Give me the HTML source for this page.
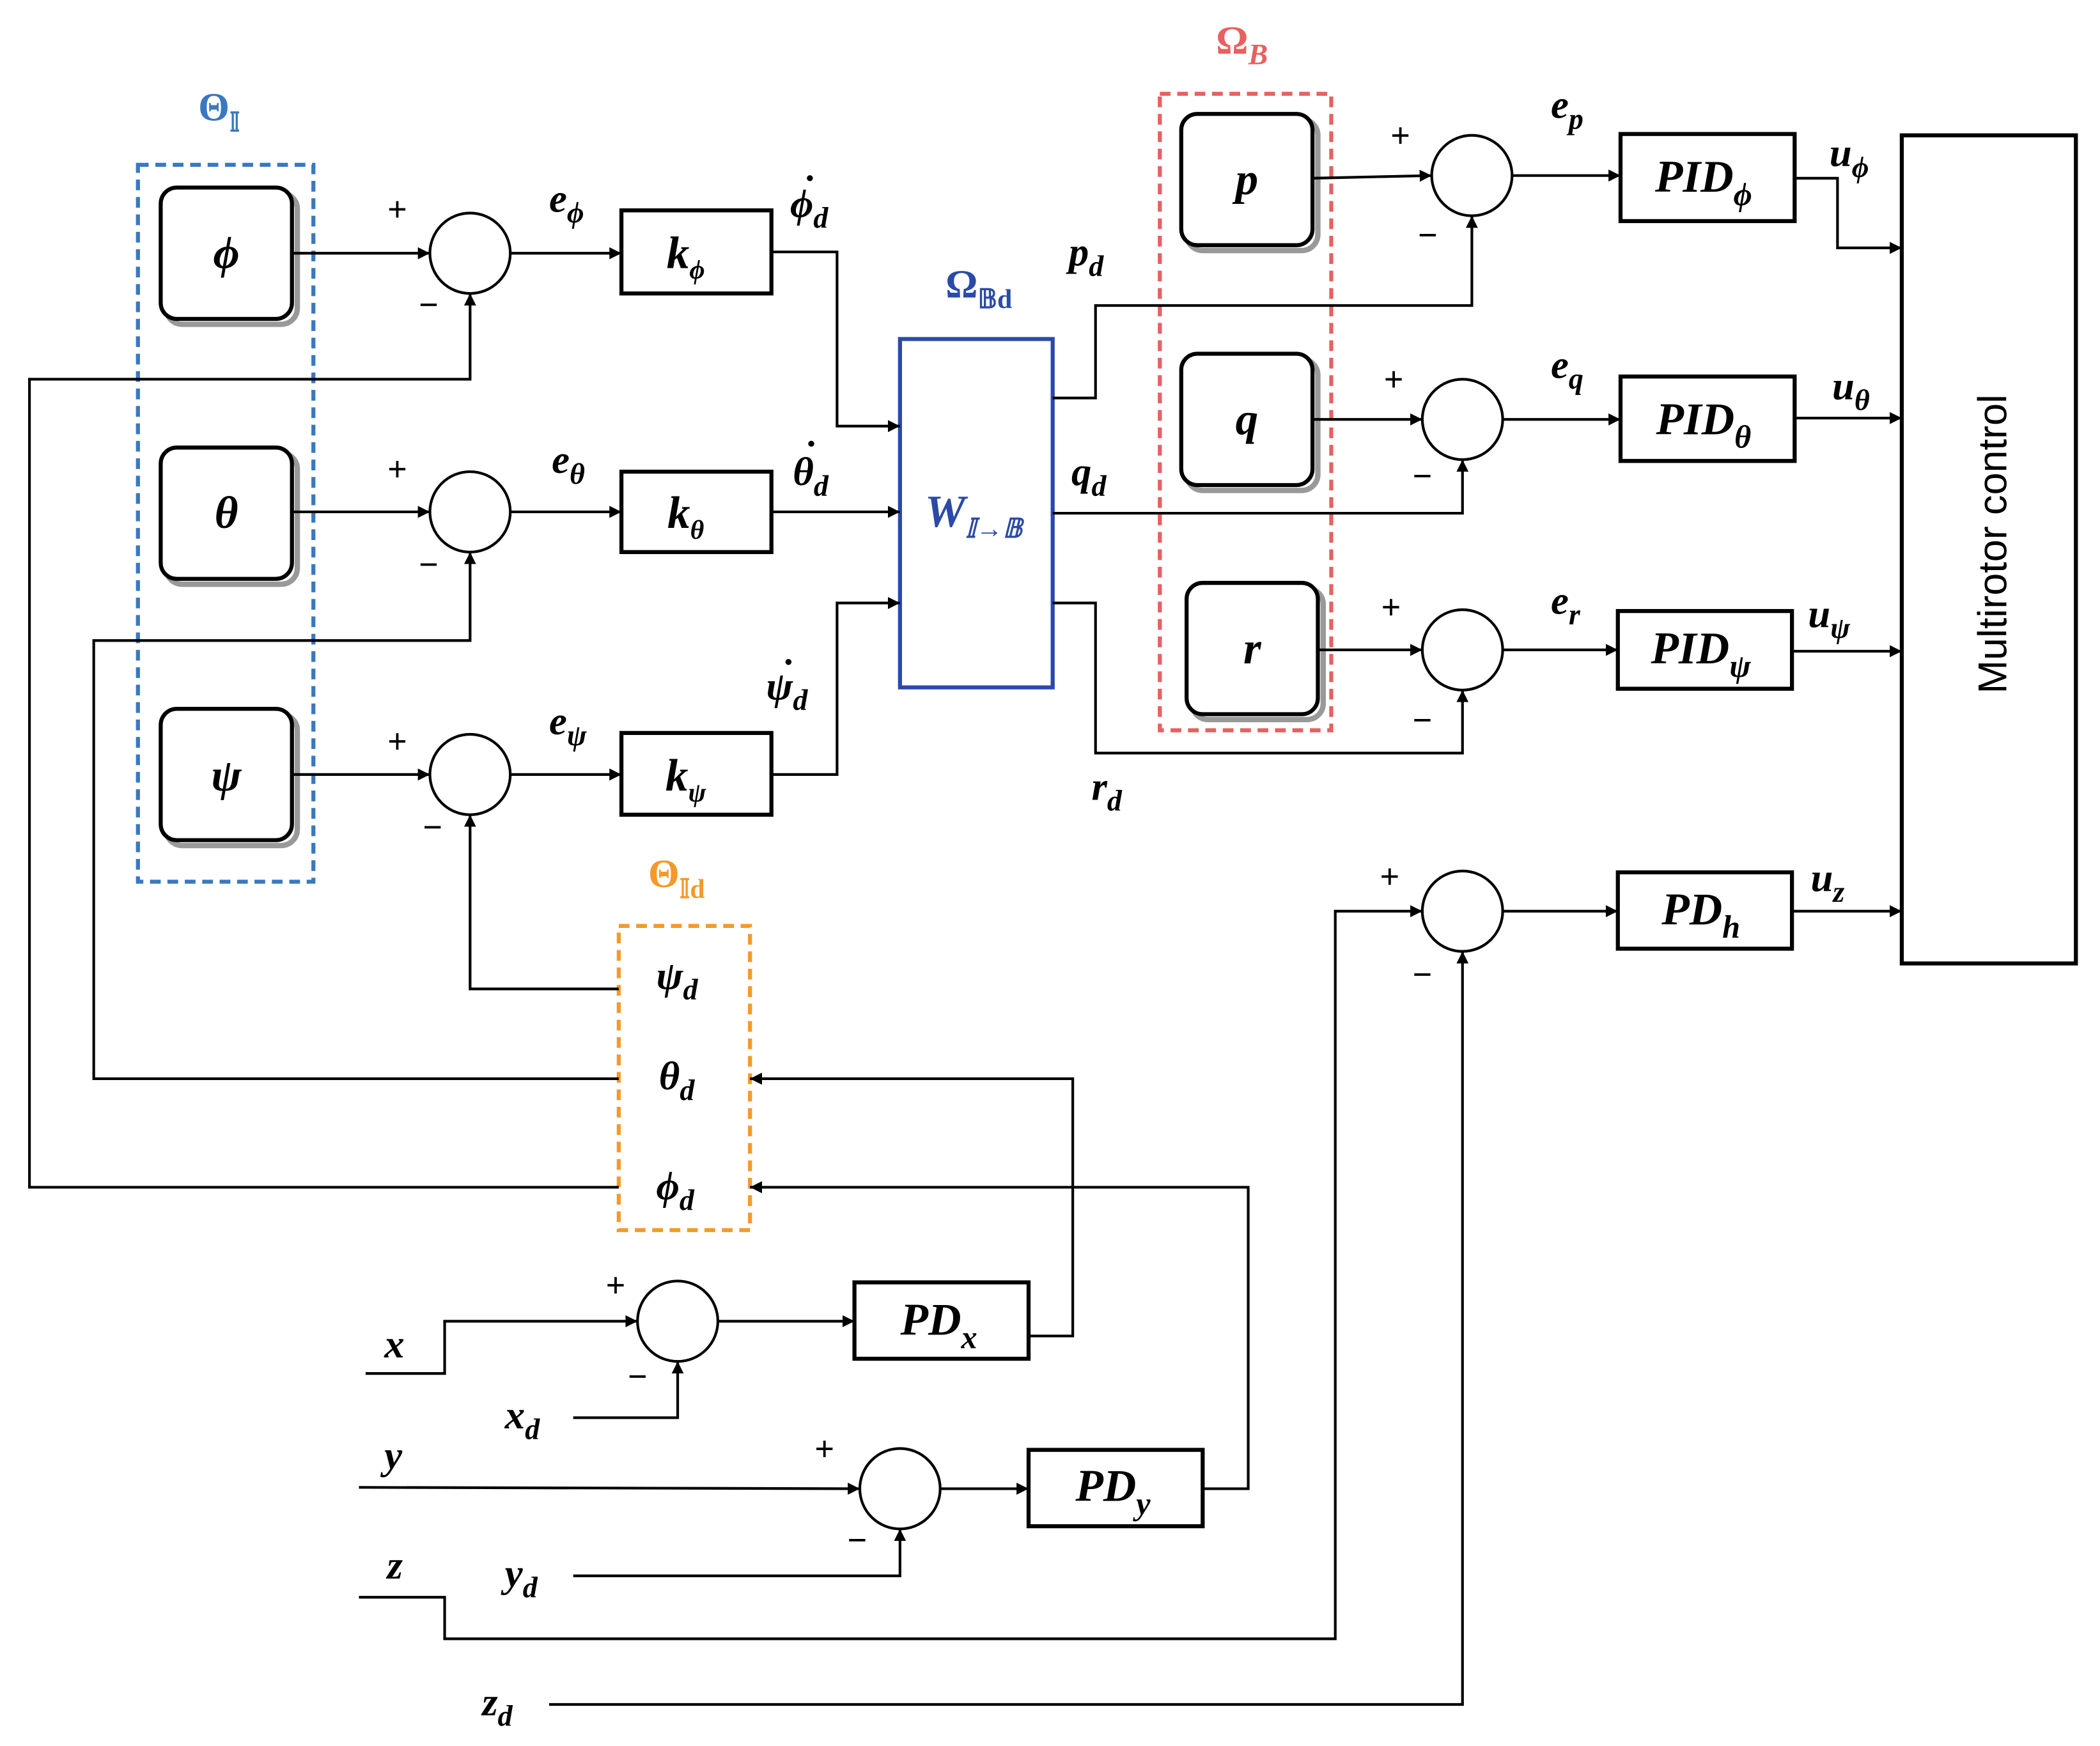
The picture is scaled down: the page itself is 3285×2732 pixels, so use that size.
<!DOCTYPE html>
<html><head><meta charset="utf-8"><style>
html,body{margin:0;padding:0;background:#fff;}
svg{display:block}
text{font-family:"Liberation Serif",serif;font-style:italic;font-weight:bold;fill:#000}
.pm{font-family:"DejaVu Sans",sans-serif;font-style:normal;font-weight:normal;font-size:26px}
</style></head><body>
<svg width="3285" height="2732" viewBox="0 0 1568 1303" preserveAspectRatio="none" xmlns="http://www.w3.org/2000/svg">
<defs><marker id="a" viewBox="0 0 10 10" refX="10" refY="5" markerWidth="9" markerHeight="9" orient="auto" markerUnits="userSpaceOnUse"><path d="M0,0L10,5L0,10z" fill="#000"/></marker></defs>
<g fill="none" stroke="#000" stroke-width="2">
<rect x="103" y="123" width="131" height="535" stroke="#3a78c0" stroke-width="3" stroke-dasharray="8,5"/>
<rect x="866" y="70" width="128" height="475" stroke="#e86060" stroke-width="3" stroke-dasharray="8,5"/>
<rect x="462" y="691" width="98" height="227" stroke="#f39a2a" stroke-width="3" stroke-dasharray="8,5"/>
<g stroke="#999" stroke-width="4"><rect x="124" y="144" width="98" height="98" rx="12"/><rect x="124" y="338" width="98" height="98" rx="12"/><rect x="124" y="533" width="98" height="98" rx="12"/><rect x="886" y="89" width="98" height="98" rx="12"/><rect x="886" y="268" width="98" height="98" rx="12"/><rect x="890" y="439" width="98" height="98" rx="12"/></g>
<g stroke-width="3" fill="#fff"><rect x="120" y="140" width="98" height="98" rx="12"/><rect x="120" y="334" width="98" height="98" rx="12"/><rect x="120" y="529" width="98" height="98" rx="12"/><rect x="882" y="85" width="98" height="98" rx="12"/><rect x="882" y="264" width="98" height="98" rx="12"/><rect x="886" y="435" width="98" height="98" rx="12"/></g>
<circle cx="351" cy="189" r="30"/><circle cx="351" cy="382" r="30"/><circle cx="351" cy="578" r="30"/>
<circle cx="1099" cy="131" r="30"/><circle cx="1092" cy="313" r="30"/><circle cx="1092" cy="485" r="30"/><circle cx="1092" cy="680" r="30"/>
<circle cx="506" cy="986" r="30"/><circle cx="672" cy="1111" r="30"/>
<g stroke-width="3"><rect x="464" y="157" width="112" height="62"/><rect x="464" y="352" width="112" height="60"/><rect x="464" y="547" width="112" height="61"/>
<rect x="1210" y="100" width="130" height="65"/><rect x="1210" y="281" width="130" height="63"/><rect x="1208" y="456" width="130" height="58"/><rect x="1208" y="651" width="130" height="57"/>
<rect x="1420" y="101" width="130" height="618"/><rect x="638" y="957" width="130" height="57"/><rect x="768" y="1082" width="130" height="57"/></g>
<rect x="672" y="253" width="114" height="260" stroke="#2b4aa8" stroke-width="3"/>
<g marker-end="url(#a)">
<path d="M218,189H321"/><path d="M218,382H321"/><path d="M218,578H321"/>
<path d="M381,189H464"/><path d="M381,382H464"/><path d="M381,578H464"/>
<path d="M576,188H625V318H672"/><path d="M576,382H672"/><path d="M576,578H625V450H672"/>
<path d="M786,297H818V228H1099V161"/><path d="M786,383H1092V343"/><path d="M786,450H818V562H1092V515"/>
<path d="M980,133L1069,131"/><path d="M1129,131H1210"/><path d="M980,313H1062"/><path d="M1122,313H1210"/><path d="M984,485H1062"/><path d="M1122,485H1208"/><path d="M1122,680H1208"/>
<path d="M1340,133H1372V185H1420"/><path d="M1340,312H1420"/><path d="M1338,486H1420"/><path d="M1338,680H1420"/>
<path d="M462,738H351V608"/><path d="M462,805H70V478H351V412"/><path d="M462,886H22V283H351V219"/>
<path d="M273,1025H332V986H476"/><path d="M428,1058H506V1016"/><path d="M536,986H638"/><path d="M768,997H801V805H560"/>
<path d="M268,1110L642,1111"/><path d="M428,1176H672V1141"/><path d="M702,1111H768"/><path d="M898,1111H932V886H560"/>
<path d="M268,1192H332V1223H997V680H1062"/><path d="M410,1272H1092V710"/>
</g>
</g>
<g font-size="34" text-anchor="middle">
<text x="169" y="200">ϕ</text><text x="169" y="394">θ</text><text x="169" y="590">ψ</text>
<text x="931" y="145">p</text><text x="931" y="324">q</text><text x="935" y="495">r</text>
<text x="512" y="200">k<tspan font-size="20" dy="8">ϕ</tspan></text><text x="512" y="394">k<tspan font-size="20" dy="8">θ</tspan></text><text x="512" y="590">k<tspan font-size="20" dy="8">ψ</tspan></text>
<text x="1272" y="143">PID<tspan font-size="24" dy="10">ϕ</tspan></text>
<text x="1272" y="324">PID<tspan font-size="24" dy="10">θ</tspan></text>
<text x="1270" y="495">PID<tspan font-size="24" dy="10">ψ</tspan></text>
<text x="1270" y="690">PD<tspan font-size="24" dy="10">h</tspan></text>
<text x="701" y="996">PD<tspan font-size="24" dy="10">x</tspan></text>
<text x="831" y="1120">PD<tspan font-size="24" dy="10">y</tspan></text>
<text x="727" y="393" style="fill:#2b4aa8">W<tspan font-size="20" dy="8" style="fill:#2b4aa8">𝕀→𝔹</tspan></text>
</g>
<g font-size="30">
<text x="410" y="158">e<tspan font-size="22" dy="8">ϕ</tspan></text><text x="412" y="353">e<tspan font-size="22" dy="8">θ</tspan></text><text x="410" y="548">e<tspan font-size="22" dy="8">ψ</tspan></text>
<text x="590" y="162">ϕ<tspan font-size="22" dy="8">d</tspan></text><text x="598" y="152" font-style="normal">˙</text>
<text x="592" y="362">θ<tspan font-size="22" dy="8">d</tspan></text><text x="599" y="350" font-style="normal">˙</text>
<text x="572" y="522">ψ<tspan font-size="22" dy="8">d</tspan></text><text x="582" y="513" font-style="normal">˙</text>
<text x="798" y="198">p<tspan font-size="22" dy="8">d</tspan></text><text x="800" y="362">q<tspan font-size="22" dy="8">d</tspan></text><text x="815" y="597">r<tspan font-size="22" dy="8">d</tspan></text>
<text x="1158" y="88">e<tspan font-size="22" dy="8">p</tspan></text><text x="1158" y="282">e<tspan font-size="22" dy="8">q</tspan></text><text x="1158" y="458">e<tspan font-size="22" dy="8">r</tspan></text>
<text x="1366" y="124">u<tspan font-size="22" dy="8">ϕ</tspan></text><text x="1368" y="298">u<tspan font-size="22" dy="8">θ</tspan></text><text x="1350" y="468">u<tspan font-size="22" dy="8">ψ</tspan></text><text x="1352" y="665">u<tspan font-size="22" dy="8">z</tspan></text>
<text x="490" y="738">ψ<tspan font-size="22" dy="8">d</tspan></text><text x="492" y="813">θ<tspan font-size="22" dy="8">d</tspan></text><text x="490" y="895">ϕ<tspan font-size="22" dy="8">d</tspan></text>
<text x="287" y="1013">x</text><text x="377" y="1066">x<tspan font-size="22" dy="8">d</tspan></text>
<text x="287" y="1096">y</text><text x="377" y="1184">y<tspan font-size="22" dy="8">d</tspan></text>
<text x="289" y="1178">z</text><text x="360" y="1280">z<tspan font-size="22" dy="8">d</tspan></text>
<text x="148" y="90" style="fill:#3a78c0;font-style:normal">Θ<tspan font-size="20" dy="8" style="fill:#3a78c0">𝕀</tspan></text>
<text x="706" y="222" style="fill:#2b4aa8;font-style:normal">Ω<tspan font-size="20" dy="8" style="fill:#2b4aa8">𝔹d</tspan></text>
<text x="908" y="40" style="fill:#e86060;font-style:normal">Ω<tspan font-size="22" dy="8" style="fill:#e86060;font-style:italic">B</tspan></text>
<text x="484" y="662" style="fill:#f39a2a;font-style:normal">Θ<tspan font-size="20" dy="8" style="fill:#f39a2a">𝕀d</tspan></text>
</g>
<g class="pm">
<text x="289" y="165">+</text><text x="312" y="236">−</text><text x="289" y="359">+</text><text x="312" y="430">−</text><text x="289" y="562">+</text><text x="315" y="626">−</text>
<text x="1038" y="110">+</text><text x="1058" y="184">−</text><text x="1033" y="292">+</text><text x="1054" y="364">−</text><text x="1031" y="462">+</text><text x="1054" y="546">−</text><text x="1030" y="663">+</text><text x="1054" y="736">−</text>
<text x="452" y="968">+</text><text x="468" y="1036">−</text><text x="608" y="1090">+</text><text x="632" y="1158">−</text>
</g>
<text transform="translate(1498,406) rotate(-90)" text-anchor="middle" font-size="30" style="font-family:'Liberation Sans',sans-serif;font-style:normal;font-weight:normal">Multirotor control</text>
</svg>
</body></html>
